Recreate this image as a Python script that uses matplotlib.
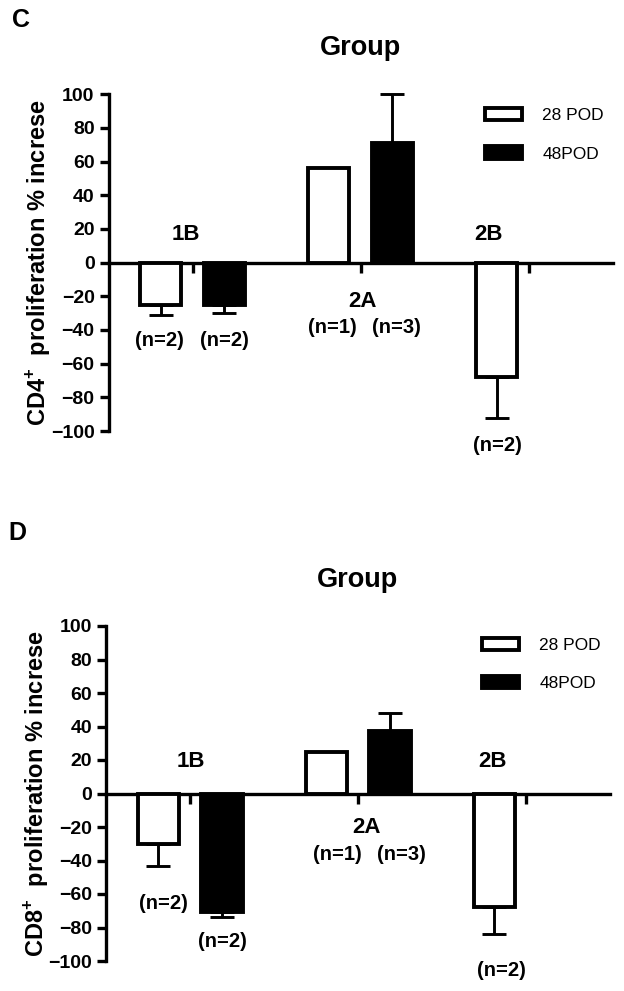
"""
Proliferation % increase by group (CD4+ and CD8+), 28 POD vs 48POD
"""
import numpy as np
import matplotlib
matplotlib.use("Agg")
import matplotlib.pyplot as plt
from matplotlib.patches import Patch

plt.rcParams["font.family"] = ["Liberation Sans", "DejaVu Sans"]
plt.rcParams["mathtext.fontset"] = "custom"
plt.rcParams["mathtext.rm"] = "Liberation Sans"
plt.rcParams["mathtext.bf"] = "Liberation Sans:bold"

groups = ["1B", "2A", "2B"]
series = ["28 POD", "48POD"]
yticks = list(range(-100, 101, 20))

# panel C: CD4+
cd4_28 = [-25, 56, -68]
cd4_48 = [-25, 71, np.nan]
cd4_28_err = [6, 0, 24]
cd4_48_err = [5, 29, 0]
cd4_n28 = ["(n=2)", "(n=1)", "(n=2)"]
cd4_n48 = ["(n=2)", "(n=3)", ""]

# panel D: CD8+
cd8_28 = [-30, 24.5, -67.5]
cd8_48 = [-70.5, 37.5, np.nan]
cd8_28_err = [13.5, 0, 16.5]
cd8_48_err = [3, 10.5, 0]
cd8_n28 = ["(n=2)", "(n=1)", "(n=2)"]
cd8_n48 = ["(n=2)", "(n=3)", ""]

# layout
W = 0.245
OFF = 0.19
LW = 2.8
SPINE_LW = 2.4


def draw_panel(ax, v28, v48, e28, e48, n28, n48, ylabel, group_pos, n28_pos, n48_pos, legend_anchor):
    x = np.arange(len(groups))
    for vals, errs, off, face in [(v28, e28, -OFF, "white"), (v48, e48, OFF, "black")]:
        vals = np.asarray(vals, float)
        errs = np.asarray(errs, float)
        ok = ~np.isnan(vals)
        ax.bar(x[ok] + off, vals[ok], width=W, color=face, edgecolor="black",
               linewidth=LW, zorder=3)
        has = ok & (errs > 0)
        lower = np.where(vals < 0, errs, 0)[has]
        upper = np.where(vals > 0, errs, 0)[has]
        ax.errorbar(x[has] + off, vals[has], yerr=[lower, upper], fmt="none", ecolor="black",
                    elinewidth=2.1, capsize=8.3, capthick=2.1, zorder=2, clip_on=False)

    for (gx, gy), g in zip(group_pos, groups):
        ax.text(gx, gy, g, ha="center", va="baseline", fontsize=16, fontweight="bold")
    for pos, lab in zip(n28_pos + n48_pos, n28 + n48):
        if pos is not None and lab:
            ax.text(pos[0], pos[1], lab, ha="center", va="baseline", fontsize=14.5, fontweight="bold")

    ax.set_xlim(-0.5, 2.5)
    ax.set_ylim(-100, 100)
    ax.spines["top"].set_visible(False)
    ax.spines["right"].set_visible(False)
    ax.spines["bottom"].set_position(("data", 0))
    ax.spines["bottom"].set_linewidth(SPINE_LW)
    ax.spines["left"].set_linewidth(SPINE_LW)
    ax.set_yticks(yticks)
    ax.tick_params(axis="y", length=6.5, width=SPINE_LW, pad=3.5, labelsize=14)
    for lab in ax.get_yticklabels():
        lab.set_fontweight("bold")
    ax.set_xticks(x)
    ax.set_xticklabels([])
    ax.tick_params(axis="x", length=7, width=SPINE_LW, direction="out")

    ax.set_title("Group", fontsize=19.5, fontweight="bold", pad=28)
    ax.set_ylabel(ylabel, fontsize=17, fontweight="bold")
    ax.yaxis.set_label_coords(-0.11, 0.5)

    handles = [Patch(facecolor="white", edgecolor="black", linewidth=LW),
               Patch(facecolor="black", edgecolor="black", linewidth=LW)]
    ax.legend(handles, series, loc="upper left", bbox_to_anchor=legend_anchor, frameon=False,
              fontsize=12.5, handlelength=2.15, handleheight=0.7, handletextpad=1.15,
              labelspacing=1.35, borderpad=0, borderaxespad=0)


fig = plt.figure(figsize=(6.24, 9.91), dpi=100)

ax_c = fig.add_axes([108.5 / 624, 1 - 431 / 991, 504 / 624, 336.7 / 991])
draw_panel(ax_c, cd4_28, cd4_48, cd4_28_err, cd4_48_err, cd4_n28, cd4_n48,
           r"CD4$^{\mathbf{+}}$  proliferation % increse",
           [(-0.04, 13.7), (1.01, -26.2), (1.76, 13.7)],
           [(-0.196, -49.4), (0.83, -41.7), (1.8125, -111.9)],
           [(0.19, -49.4), (1.214, -41.7), None],
           (0.747, 0.96))

ax_d = fig.add_axes([106 / 624, 1 - 961 / 991, 504 / 624, 335 / 991])
draw_panel(ax_d, cd8_28, cd8_48, cd8_28_err, cd8_48_err, cd8_n28, cd8_n48,
           r"CD8$^{\mathbf{+}}$  proliferation % increse",
           [(0.006, 16.1), (1.052, -23.5), (1.802, 16.1)],
           [(-0.157, -68.8), (0.875, -40), (1.854, -109)],
           [(0.193, -91.6), (1.256, -40), None],
           (0.746, 0.965))

fig.text(12 / 624, 1 - 27 / 991, "C", fontsize=18, fontweight="bold", va="baseline")
fig.text(8 / 624, 1 - 540 / 991, "D", fontsize=18, fontweight="bold", va="baseline")

fig.savefig("out.png", dpi=100)
